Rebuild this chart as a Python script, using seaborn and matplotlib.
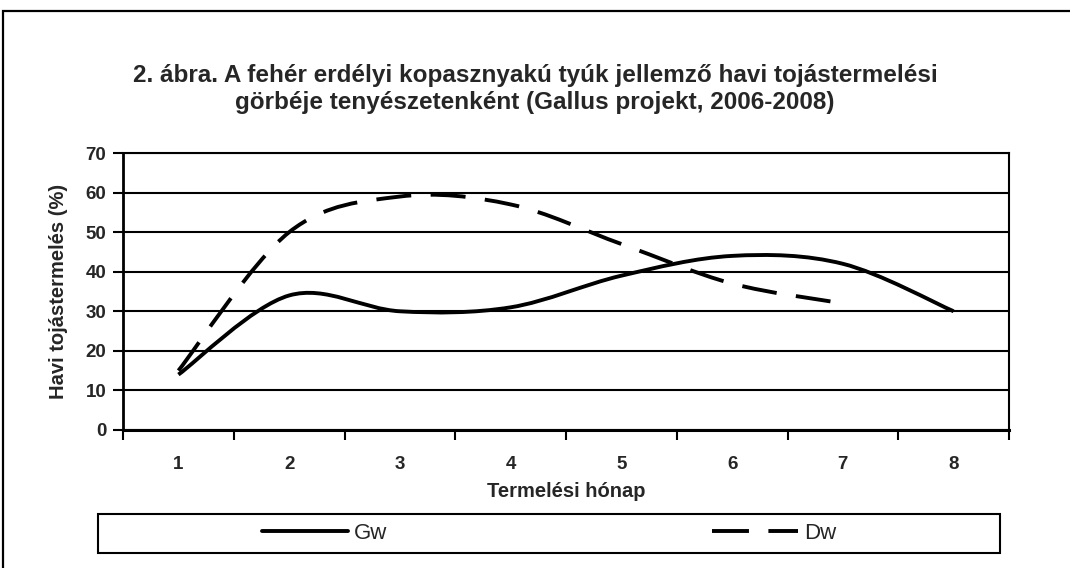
import numpy as np
import pandas as pd
import seaborn as sns
import matplotlib.pyplot as plt
from matplotlib.path import Path
from matplotlib.patches import PathPatch, Rectangle
from matplotlib.ticker import FixedLocator, NullFormatter

# data
months = [1, 2, 3, 4, 5, 6, 7, 8]
gw = [14, 34, 30, 31, 39, 44, 42, 30]
dw = [15, 50, 59, 57, 47, 37, 32]
series_names = ['Gw', 'Dw']

df = pd.concat([
    pd.DataFrame({'honap': months, 'ertek': gw, 'sor': 'Gw'}),
    pd.DataFrame({'honap': months[:len(dw)], 'ertek': dw, 'sor': 'Dw'}),
])


def smooth_path(x, y):
    """Excel-like smoothed line: Catmull-Rom segments as cubic Bezier curves."""
    pts = np.column_stack([x, y]).astype(float)
    n = len(pts)
    verts = [pts[0]]
    codes = [Path.MOVETO]
    for i in range(n - 1):
        p0 = pts[max(i - 1, 0)]
        p1 = pts[i]
        p2 = pts[i + 1]
        p3 = pts[min(i + 2, n - 1)]
        verts += [p1 + (p2 - p0) / 6, p2 - (p3 - p1) / 6, p2]
        codes += [Path.CURVE4] * 3
    return Path(verts, codes)


sns.set_theme(style='white')
plt.rcParams['font.family'] = ['Liberation Sans', 'DejaVu Sans']

fig = plt.figure(figsize=(10.7, 5.68), dpi=100)
ax = fig.add_axes([0.115, 0.243, 0.828, 0.4876])

styles = {'Gw': '', 'Dw': (9, 5)}
sns.lineplot(data=df, x='honap', y='ertek', hue='sor', style='sor',
             palette={'Gw': 'black', 'Dw': 'black'}, dashes=styles,
             linewidth=2.8, ax=ax, legend=False)

# replace the straight segments with smoothed curves
for line in ax.get_lines():
    xd, yd = line.get_xdata(), line.get_ydata()
    patch = PathPatch(smooth_path(xd, yd), facecolor='none', edgecolor='black',
                      linewidth=2.8, capstyle='butt')
    if line.get_linestyle() != '-':
        patch.set_linestyle((0, (9, 5)))
    ax.add_patch(patch)
    line.set_visible(False)

ax.set_xlim(0.5, 8.5)
ax.set_ylim(0, 70)
ax.set_yticks(range(0, 71, 10))
ax.yaxis.grid(True, color='black', linewidth=1.5)
ax.set_axisbelow(True)

# category axis: ticks between categories, labels centred
ax.xaxis.set_major_locator(FixedLocator(np.arange(0.5, 9, 1)))
ax.xaxis.set_major_formatter(NullFormatter())
ax.xaxis.set_minor_locator(FixedLocator(months))
ax.set_xticklabels([str(m) for m in months], minor=True)
ax.tick_params(axis='x', which='major', direction='out', length=7, width=1.5,
               color='black', bottom=True)
ax.tick_params(axis='x', which='minor', length=0, pad=19, labelsize=13.5)
ax.tick_params(axis='y', direction='out', length=7, width=1.5, color='black',
               left=True, pad=5, labelsize=13.5)
for lab in ax.get_xticklabels(minor=True) + ax.get_yticklabels():
    lab.set_fontweight('bold')

for side, sp in ax.spines.items():
    sp.set_color('black')
    sp.set_linewidth(1.5)
ax.spines['bottom'].set_linewidth(2.2)
ax.spines['left'].set_linewidth(2)

ax.set_xlabel('Termelési hónap', fontsize=14.5, fontweight='bold', labelpad=6)
ax.set_ylabel('Havi tojástermelés (%)', fontsize=14.5, fontweight='bold',
              labelpad=13)

fig.text(0.5, 0.843, '2. ábra. A fehér erdélyi kopasznyakú tyúk jellemző havi tojástermelési\n'
         'görbéje tenyészetenként (Gallus projekt, 2006-2008)',
         ha='center', va='center', fontsize=17.5, fontweight='bold',
         linespacing=1.22)

# outer frame of the chart
fig.patches.append(Rectangle((3 / 1070, -0.1), 1.2, 1 - 11 / 568 + 0.1,
                             transform=fig.transFigure, fill=False,
                             edgecolor='black', linewidth=1.6))

# legend box at the bottom
fig.patches.append(Rectangle((98 / 1070, 1 - 553 / 568), 902 / 1070, 39 / 568,
                             transform=fig.transFigure, fill=False,
                             edgecolor='black', linewidth=1.5))
handles = [plt.Line2D([], [], color='black', linewidth=2.8),
           plt.Line2D([], [], color='black', linewidth=2.8, dashes=(9.5, 5))]
fig.legend(handles, series_names, loc='center', ncol=2,
           bbox_to_anchor=(0.513, 1 - 533.5 / 568), frameon=False,
           fontsize=16, handlelength=3.9, handletextpad=0.25,
           columnspacing=14.6)

fig.savefig('out.png', dpi=100)
